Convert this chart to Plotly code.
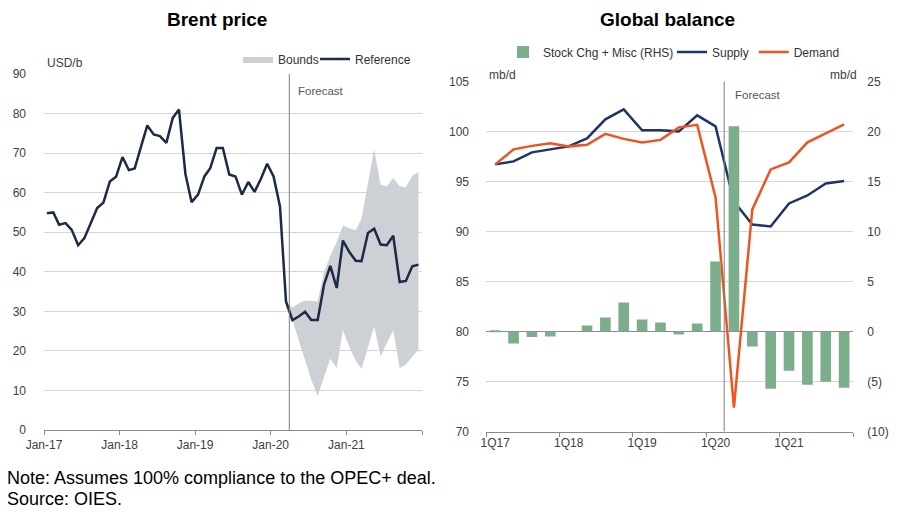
import pandas as pd
import plotly.graph_objects as go

# ---------------- data ----------------
months = pd.date_range("2017-01-01", periods=60, freq="MS") + pd.Timedelta(days=14)
brent_reference = [54.8, 55.0, 51.9, 52.3, 50.6, 46.7, 48.5, 52.3, 56.1, 57.5,
                   62.8, 64.0, 69.0, 65.7, 66.1, 71.7, 77.0, 74.7, 74.3, 72.6,
                   78.9, 81.0, 64.8, 57.6, 59.5, 64.1, 66.2, 71.3, 71.3, 64.6,
                   64.1, 59.5, 62.7, 60.2, 63.5, 67.3, 64.1, 56.5, 32.5, 27.8,
                   28.7, 29.9, 27.8, 27.8, 36.8, 41.5, 35.9, 47.9, 45.0, 42.8,
                   42.7, 49.8, 50.9, 46.9, 46.7, 49.1, 37.4, 37.7, 41.4, 41.8]
forecast_months = months[38:]
bounds_upper = [32.5, 31.0, 32.0, 32.7, 32.7, 32.5, 40.0, 44.0, 47.5, 51.7, 51.0,
                50.5, 53.5, 62.0, 71.0, 62.0, 61.6, 63.7, 61.6, 61.4, 64.3, 65.2]
bounds_lower = [31.0, 27.8, 22.8, 17.7, 12.7, 8.6, 13.5, 18.1, 15.6, 25.3, 21.0,
                17.5, 15.4, 20.7, 26.2, 18.6, 21.9, 25.3, 15.6, 16.5, 18.6, 20.3]
brent_tick_dates = ["2017-01-01", "2018-01-01", "2019-01-01", "2020-01-01", "2021-01-01", "2022-01-01"]
brent_tick_labels = ["Jan-17", "Jan-18", "Jan-19", "Jan-20", "Jan-21", ""]
brent_forecast_start = "2020-03-31"

quarters = [f"{q}Q{y}" for y in range(17, 22) for q in range(1, 5)]
stock_chg = [0.1, -1.2, -0.55, -0.5, 0.0, 0.6, 1.4, 2.9, 1.2, 0.9,
             -0.3, 0.8, 7.0, 20.5, -1.5, -5.7, -3.9, -5.3, -5.0, -5.6]
supply = [96.7, 97.0, 97.9, 98.2, 98.5, 99.3, 101.2, 102.2, 100.1, 100.1,
          100.0, 101.6, 100.5, 93.0, 90.7, 90.5, 92.8, 93.6, 94.8, 95.05]
demand = [96.7, 98.2, 98.55, 98.8, 98.5, 98.65, 99.75, 99.25, 98.9, 99.15,
          100.4, 100.65, 93.4, 72.4, 92.2, 96.2, 96.9, 98.9, 99.8, 100.7]
rhs_tickvals = [-10, -5, 0, 5, 10, 15, 20, 25]
rhs_ticktext = ["(10)", "(5)", "0", "5", "10", "15", "20", "25"]
balance_forecast_pos = 12.47

# ---------------- style ----------------
W, H = 902, 526
OFF = 8  # page body margin: figure origin sits at page pixel (8, 8)
FONT = "Liberation Sans, Arial, sans-serif"
TICK = dict(family=FONT, size=12, color="#404040")
GRID = "#d6d6d6"
AXIS = "#8a8a8a"
NAVY_L = "#1c2a48"
NAVY = "#1f3468"
ORANGE = "#ee5420"
GREEN = "#7dae8c"
BOUNDS = "#cdd1d6"


def px_x(x):
    return (x - OFF) / W


def px_y(y):
    return 1 - (y - OFF) / H


fig = go.Figure()

# ---- left: Brent price ----
fig.add_trace(go.Scatter(x=forecast_months, y=bounds_lower, mode="lines",
                         line=dict(width=0, color=BOUNDS), showlegend=False,
                         xaxis="x", yaxis="y", hoverinfo="skip"))
fig.add_trace(go.Scatter(x=forecast_months, y=bounds_upper, mode="lines", name="Bounds",
                         line=dict(width=0, color=BOUNDS), fill="tonexty", fillcolor=BOUNDS,
                         xaxis="x", yaxis="y", legend="legend", legendwidth=32))
fig.add_trace(go.Scatter(x=months, y=brent_reference, mode="lines", name="Reference",
                         line=dict(width=2.5, color=NAVY_L), xaxis="x", yaxis="y",
                         legend="legend"))

# ---- right: Global balance ----
fig.add_trace(go.Bar(x=quarters, y=stock_chg, name="Stock Chg + Misc (RHS)",
                     marker=dict(color=GREEN, line=dict(width=0)), xaxis="x2", yaxis="y3",
                     legend="legend2", legendwidth=124))
fig.add_trace(go.Scatter(x=quarters, y=supply, mode="lines", name="Supply",
                         line=dict(width=2.5, color=NAVY), xaxis="x2", yaxis="y2",
                         legend="legend2"))
fig.add_trace(go.Scatter(x=quarters, y=demand, mode="lines", name="Demand",
                         line=dict(width=2.5, color=ORANGE), xaxis="x2", yaxis="y2",
                         legend="legend2"))

fig.update_layout(
    width=W, height=H, autosize=False,
    margin=dict(l=0, r=0, t=0, b=0, autoexpand=False),
    paper_bgcolor="white", plot_bgcolor="white",
    font=dict(family=FONT, size=12, color="#333333"),
    bargap=0.42,
    xaxis=dict(domain=[px_x(44), px_x(422)], type="date", automargin=False,
               range=["2017-01-01", "2022-01-01"],
               tickmode="array", tickvals=brent_tick_dates, ticktext=brent_tick_labels,
               ticks="outside", ticklen=4, tickcolor=AXIS, showline=True, linecolor=AXIS,
               linewidth=1, showgrid=False, zeroline=False, tickfont=TICK, tickangle=0,
               anchor="y"),
    yaxis=dict(domain=[px_y(430), px_y(74)], range=[0, 90], dtick=10, automargin=False,
               showgrid=True, gridcolor=GRID, gridwidth=1, zeroline=False, showline=False,
               ticks="", tickfont=TICK, ticklabelstandoff=17, anchor="x"),
    xaxis2=dict(domain=[px_x(486), px_x(853.3)], type="category", automargin=False,
                range=[-0.5, 19.5], dtick=4, tickson="boundaries", tickangle=0,
                ticks="outside", ticklen=4, tickcolor=AXIS, showline=True, linecolor=AXIS,
                linewidth=1, showgrid=False, zeroline=False, tickfont=TICK, anchor="y2"),
    yaxis2=dict(domain=[px_y(431.7), px_y(81.3)], range=[70, 105], dtick=5, automargin=False,
                showgrid=True, gridcolor=GRID, gridwidth=1, zeroline=False, showline=False,
                ticks="", tickfont=TICK, ticklabelstandoff=16, anchor="x2"),
    yaxis3=dict(overlaying="y2", side="right", range=[-10, 25], automargin=False,
                tickmode="array", tickvals=rhs_tickvals, ticktext=rhs_ticktext,
                showgrid=False, zeroline=True, zerolinecolor=AXIS, zerolinewidth=1,
                showline=False, ticks="", tickfont=TICK, ticklabelstandoff=13, anchor="x2"),
    legend=dict(orientation="h", x=px_x(416), xanchor="right", y=px_y(59), yanchor="middle",
                font=dict(family=FONT, size=12, color="#333333"), bgcolor="rgba(0,0,0,0)",
                itemwidth=30, tracegroupgap=0, traceorder="normal"),
    legend2=dict(orientation="h", x=px_x(674), xanchor="center", y=px_y(52), yanchor="middle",
                 font=dict(family=FONT, size=12, color="#333333"), bgcolor="rgba(0,0,0,0)",
                 itemwidth=30, tracegroupgap=0, traceorder="normal"),
)

# forecast dividers
fig.add_shape(type="line", xref="x", yref="y", x0=brent_forecast_start, x1=brent_forecast_start,
              y0=0, y1=90, line=dict(color="#7f7f7f", width=1))
fig.add_shape(type="line", xref="x2", yref="y2", x0=balance_forecast_pos, x1=balance_forecast_pos,
              y0=70, y1=105, line=dict(color="#7f7f7f", width=1))

# titles pinned to the figure's top edge
for title, cx in [("<b>Brent price</b>", 217), ("<b>Global balance</b>", 667)]:
    fig.add_annotation(xref="paper", yref="paper", x=px_x(cx), y=1.0, xanchor="center",
                       yanchor="top", showarrow=False, borderpad=0,
                       text=title, font=dict(family=FONT, size=19, color="#000000"))

annotations = [
    dict(text="USD/b", x=px_x(45), y=px_y(63), xanchor="left", font=dict(size=12, color="#404040")),
    dict(text="mb/d", x=px_x(487), y=px_y(75), xanchor="left", font=dict(size=12, color="#404040")),
    dict(text="mb/d", x=px_x(859), y=px_y(75), xanchor="right", font=dict(size=12, color="#404040")),
    dict(text="Forecast", x=px_x(296), y=px_y(91), xanchor="left", font=dict(size=11.5, color="#555555")),
    dict(text="Forecast", x=px_x(733), y=px_y(95), xanchor="left", font=dict(size=11.5, color="#555555")),
    dict(text="Note: Assumes 100% compliance to the OPEC+ deal.", x=px_x(5), y=px_y(478),
         xanchor="left", font=dict(size=18, color="#000000")),
    dict(text="Source: OIES.", x=px_x(5), y=px_y(499), xanchor="left",
         font=dict(size=18, color="#000000")),
]
for a in annotations:
    fig.add_annotation(xref="paper", yref="paper", yanchor="middle", showarrow=False,
                       font_family=FONT, **a)

fig.write_html("out.html")
